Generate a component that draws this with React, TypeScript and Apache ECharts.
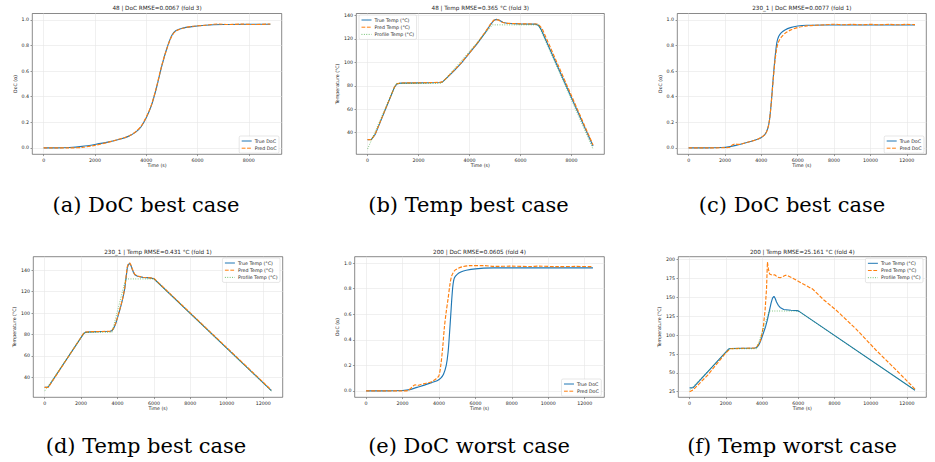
import React, { useEffect, useRef } from "react";
import * as echarts from "echarts";

// ---------- data ----------
// (a) run 48 – DoC
const aTrueDoc = [[0,0],[500,0],[1000,0.003],[1500,0.012],[2000,0.027],[2500,0.045],[3000,0.07],[3300,0.09],[3600,0.125],[3800,0.165],[4000,0.235],[4200,0.33],[4400,0.47],[4600,0.635],[4800,0.775],[5000,0.88],[5150,0.915],[5400,0.935],[5800,0.948],[6300,0.958],[7000,0.964],[8000,0.966],[8840,0.966]];
const aPredDoc = [[0,0],[1000,0],[1500,0.004],[2000,0.02],[2500,0.043],[2800,0.06],[3000,0.072],[3200,0.083],[3400,0.1],[3600,0.128],[3800,0.17],[4000,0.24],[4200,0.335],[4400,0.475],[4600,0.64],[4800,0.772],[5000,0.875],[5150,0.912],[5400,0.933],[5800,0.95],[6300,0.958],[6800,0.968],[7200,0.964],[7700,0.967],[8200,0.964],[8840,0.968]];
// (b) run 48 – temperature
const bTrueTemp = [[0,34],[150,34.3],[300,38.5],[1050,78.5],[1150,81.5],[1300,82.3],[2000,82.5],[2850,82.8],[2950,83.5],[3100,86.5],[3400,93],[3700,100],[4000,108],[4300,116],[4600,125],[4800,131.5],[4950,135.8],[5050,136.7],[5150,136.2],[5300,134.2],[5500,133.2],[6000,132.8],[6600,132.6],[6700,131.5],[6800,128.3],[8840,28.5]];
const bPredTemp = [[0,34],[150,34],[300,38.8],[1050,78.8],[1150,81.7],[1300,82.4],[2000,82.5],[2850,82.9],[2950,83.6],[3100,86.8],[3400,93.3],[3700,100.3],[4000,108.3],[4300,116.5],[4600,125.5],[4800,132],[4950,136],[5050,136.5],[5150,136],[5300,134],[5500,133.3],[6000,132.9],[6650,132.7],[6750,131.2],[6850,128.5],[8840,29.5]];
const bProfileTemp = [[0,26],[1120,82],[2900,82],[4900,132],[6700,132],[8840,26]];
// (c) run 230_1 – DoC
const cTrueDoc = [[0,0],[1000,0],[1800,0.003],[2200,0.008],[2600,0.02],[3000,0.034],[3400,0.05],[3800,0.068],[4000,0.082],[4200,0.105],[4350,0.15],[4450,0.22],[4550,0.36],[4650,0.54],[4750,0.7],[4850,0.82],[4950,0.87],[5100,0.9],[5300,0.922],[5600,0.94],[6000,0.952],[6500,0.958],[7500,0.96],[12450,0.96]];
const cPredDoc = [[0,0],[1000,0],[2000,0.002],[2300,0.006],[2400,0.022],[2550,0.03],[2750,0.027],[3000,0.034],[3400,0.05],[3800,0.068],[4000,0.083],[4200,0.104],[4350,0.15],[4450,0.22],[4550,0.36],[4650,0.53],[4750,0.68],[4850,0.78],[4950,0.83],[5100,0.865],[5300,0.895],[5600,0.92],[6000,0.94],[6500,0.953],[7000,0.958],[7500,0.962],[8000,0.966],[8500,0.962],[9000,0.965],[9500,0.962],[10000,0.965],[10500,0.962],[11000,0.965],[11500,0.962],[12000,0.965],[12450,0.963]];
// (d) run 230_1 – temperature
const dTrueTemp = [[0,30.5],[200,30.8],[2150,81],[2250,82],[2500,82.5],[3600,83],[3700,83.6],[3800,86],[3900,90],[4000,95.5],[4100,101.5],[4200,107.5],[4300,114.5],[4400,123],[4470,133],[4540,142.5],[4600,145.5],[4670,146.5],[4740,144.5],[4800,141.5],[4880,138],[4950,136],[5100,134.5],[5400,133.5],[5800,133],[6000,132.2],[12450,27.5]];
const dPredTemp = [[0,30.5],[200,30.5],[2150,81.3],[2250,82.2],[2500,82.6],[3600,83],[3700,83.8],[3800,86.5],[3900,90.5],[4000,96],[4100,102],[4200,108],[4300,115],[4400,123.5],[4470,134],[4540,143.5],[4600,146.3],[4670,147],[4740,145],[4800,142],[4880,138.5],[4950,136.3],[5100,134.7],[5400,133.6],[5800,133],[6000,132.5],[12450,28]];
const dProfileTemp = [[0,27],[2200,82],[3700,82],[4450,132],[6000,132],[12450,27]];
// (e) run 200 – DoC
const eTrueDoc = [[0,0],[1000,0],[2000,0.003],[2400,0.01],[2800,0.028],[3200,0.045],[3600,0.065],[3900,0.08],[4100,0.1],[4250,0.13],[4400,0.2],[4500,0.3],[4580,0.45],[4650,0.6],[4720,0.75],[4780,0.84],[4850,0.885],[5000,0.912],[5200,0.93],[5500,0.944],[6000,0.955],[7000,0.962],[8000,0.963],[12450,0.963]];
const ePredDoc = [[0,0],[1000,0],[2000,0],[2300,0.003],[2450,0.02],[2600,0.04],[2700,0.048],[2800,0.042],[3000,0.05],[3300,0.06],[3600,0.072],[3850,0.095],[4000,0.12],[4100,0.2],[4200,0.33],[4300,0.5],[4400,0.62],[4500,0.72],[4600,0.83],[4700,0.9],[4850,0.94],[5000,0.955],[5300,0.972],[5700,0.98],[6500,0.98],[7000,0.974],[8000,0.976],[9000,0.973],[9500,0.976],[10500,0.972],[11500,0.974],[12450,0.972]];
// (f) run 200 – temperature
const fTrueTemp = [[0,30],[200,30.5],[2150,81.5],[2250,82.3],[3600,83],[3700,83.6],[3800,86],[3900,91],[4000,97.5],[4100,104.5],[4200,111.5],[4300,120.5],[4400,131.5],[4500,142.5],[4580,149],[4660,151.5],[4730,148.5],[4800,144],[4900,139.5],[5000,136.7],[5200,134],[5600,133],[5950,132.5],[6050,131.5],[12450,27]];
const fPredTemp = [[0,25],[200,27.5],[1000,47],[2000,76.5],[2250,82],[3600,83],[3700,84],[3800,88],[3900,92],[4000,102],[4080,113],[4170,133],[4250,162],[4300,197],[4350,188],[4420,181],[4550,179.5],[4700,180],[4850,177],[5000,176],[5150,177.5],[5300,179.5],[5450,178.5],[5700,175.5],[6000,171.5],[6300,167.5],[6600,163.5],[6800,161],[7100,154],[7400,147],[8100,133],[9200,108],[10300,80],[11400,54],[12450,28.5]];
const fProfileTemp = [[0,27],[2200,82],[3700,82],[4400,132],[6000,132],[12450,27]];

// tick labels
const xTicksShort = [0, 2000, 4000, 6000, 8000];
const xTicksLong = [0, 2000, 4000, 6000, 8000, 10000, 12000];
const docTicks = [0, 0.2, 0.4, 0.6, 0.8, 1.0];
const tempTicks = [40, 60, 80, 100, 120, 140];
const tempTicksWide = [25, 50, 75, 100, 125, 150, 175, 200];

// texts
const panelTitles = [
  "48 | DoC RMSE=0.0067 (fold 3)",
  "48 | Temp RMSE=0.365 °C (fold 3)",
  "230_1 | DoC RMSE=0.0077 (fold 1)",
  "230_1 | Temp RMSE=0.431 °C (fold 1)",
  "200 | DoC RMSE=0.0605 (fold 4)",
  "200 | Temp RMSE=25.161 °C (fold 4)",
];
const captions = [
  "(a) DoC best case",
  "(b) Temp best case",
  "(c) DoC best case",
  "(d) Temp best case",
  "(e) DoC worst case",
  "(f) Temp worst case",
];
const docNames = ["True DoC", "Pred DoC"];
const tempNames = ["True Temp (°C)", "Pred Temp (°C)", "Profile Temp (°C)"];

// ---------- styling / layout ----------
const SANS = "DejaVu Sans";
const SERIF = "DejaVu Serif";
const TXT = "#262626";
const BLUE = "#1f77b4";
const ORANGE = "#ff7f0e";
const GREEN = "#2ca02c";
const TICK_FS = 4.73;
const TITLE_FS = 5.68;

type Panel = {
  grid: { left: number; top: number; width: number; height: number };
  xr: number[]; yr: number[]; xt: number[]; yt: number[];
  doc: boolean; yGap: number;
  legend: any;
  data: number[][][];
};

const panels: Panel[] = [
  { grid: { left: 32.3, top: 13.5, width: 249.4, height: 140.8 }, xr: [-442, 9282], yr: [-0.05, 1.05], xt: xTicksShort, yt: docTicks, doc: true, yGap: 13.9, legend: { right: 656, top: 136 }, data: [aTrueDoc, aPredDoc] },
  { grid: { left: 356.3, top: 13.5, width: 248, height: 140.8 }, xr: [-442, 9282], yr: [21.5, 141.7], xt: xTicksShort, yt: tempTicks, doc: false, yGap: 14.3, legend: { left: 359, top: 15 }, data: [bTrueTemp, bPredTemp, bProfileTemp] },
  { grid: { left: 677.3, top: 13.5, width: 249, height: 140.8 }, xr: [-623, 13073], yr: [-0.05, 1.05], xt: xTicksLong, yt: docTicks, doc: true, yGap: 13.9, legend: { right: 11, top: 136 }, data: [cTrueDoc, cPredDoc] },
  { grid: { left: 33.3, top: 256.7, width: 249.4, height: 140.6 }, xr: [-623, 13073], yr: [21.2, 152.8], xt: xTicksLong, yt: tempTicks, doc: false, yGap: 14.9, legend: { right: 655, top: 258 }, data: [dTrueTemp, dPredTemp, dProfileTemp] },
  { grid: { left: 354.7, top: 256.7, width: 249.6, height: 140.6 }, xr: [-623, 13073], yr: [-0.05, 1.05], xt: xTicksLong, yt: docTicks, doc: true, yGap: 12.7, legend: { right: 333.7, top: 379 }, data: [eTrueDoc, ePredDoc] },
  { grid: { left: 678.3, top: 256.7, width: 248, height: 140.6 }, xr: [-623, 13073], yr: [17.6, 204], xt: xTicksLong, yt: tempTicksWide, doc: false, yGap: 14.3, legend: { right: 12, top: 258.3 }, data: [fTrueTemp, fPredTemp, fProfileTemp] },
];

const captionPos = [
  [146, 205], [468.5, 205], [792, 205],
  [146, 446], [469, 446], [792, 446],
];

function buildOption() {
  const grid: any[] = [];
  const xAxis: any[] = [];
  const yAxis: any[] = [];
  const series: any[] = [];
  const legend: any[] = [];
  const graphic: any[] = [];

  panels.forEach((p, i) => {
    grid.push({
      ...p.grid,
      show: true,
      borderColor: "#3a3a3a",
      borderWidth: 0.6,
      backgroundColor: "transparent",
      containLabel: false,
    });
    xAxis.push({
      type: "value",
      gridIndex: i,
      min: p.xr[0],
      max: p.xr[1],
      name: "Time (s)",
      nameLocation: "middle",
      nameGap: 9,
      nameTextStyle: { fontSize: TICK_FS, fontFamily: SANS, color: TXT },
      axisLine: { show: false, onZero: false },
      axisTick: { show: true, length: 1.8, customValues: p.xt, lineStyle: { color: "#3a3a3a", width: 0.5 } },
      axisLabel: { customValues: p.xt, fontSize: TICK_FS, fontFamily: SANS, color: TXT, margin: 3.2, formatter: (v: number) => String(v) },
      splitLine: { show: true, lineStyle: { color: "#e6e6e6", width: 0.6 } },
    });
    yAxis.push({
      type: "value",
      gridIndex: i,
      min: p.yr[0],
      max: p.yr[1],
      name: p.doc ? "DoC (α)" : "Temperature (°C)",
      nameLocation: "middle",
      nameGap: p.yGap,
      nameTextStyle: { fontSize: TICK_FS, fontFamily: SANS, color: TXT },
      axisLine: { show: false, onZero: false },
      axisTick: { show: true, length: 1.8, customValues: p.yt, lineStyle: { color: "#3a3a3a", width: 0.5 } },
      axisLabel: {
        customValues: p.yt, fontSize: TICK_FS, fontFamily: SANS, color: TXT, margin: 3.2,
        formatter: (v: number) => (p.doc ? v.toFixed(1) : String(v)),
      },
      splitLine: { show: true, lineStyle: { color: "#e6e6e6", width: 0.6 } },
    });

    const names = p.doc ? docNames : tempNames;
    p.data.forEach((d, k) => {
      const color = k === 0 ? BLUE : k === 1 ? ORANGE : GREEN;
      const type = k === 0 ? "solid" : k === 1 ? [3.8, 1.6] : [0.9, 1.5];
      series.push({
        type: "line",
        name: names[k],
        xAxisIndex: i,
        yAxisIndex: i,
        data: d,
        symbol: "none",
        showSymbol: false,
        smooth: p.doc ? 0.3 : false,
        color,
        lineStyle: { color, width: k === 2 ? 0.85 : 1.15, type, opacity: k === 2 ? 0.75 : 1 },
        silent: true,
        emphasis: { disabled: true },
        z: 2 + k,
      });
    });

    legend.push({
      ...p.legend,
      orient: "vertical",
      data: names,
      selectedMode: false,
      itemWidth: 10,
      itemHeight: 5,
      itemGap: 1.2,
      padding: [2, 2.5, 2, 2],
      backgroundColor: "rgba(255,255,255,0.85)",
      borderColor: "#cccccc",
      borderWidth: 0.5,
      borderRadius: 1.5,
      itemStyle: { opacity: 0, borderWidth: 0 },
      lineStyle: { width: 1 },
      textStyle: { fontSize: TICK_FS, fontFamily: SANS, color: TXT, lineHeight: 6, padding: [0, 0, 0, -2] },
    });

    graphic.push({
      type: "text",
      x: p.grid.left + p.grid.width / 2,
      y: p.grid.top - 5.2,
      silent: true,
      style: { text: panelTitles[i], fontSize: TITLE_FS, fontFamily: SANS, fill: TXT, align: "center", verticalAlign: "middle" },
    });
    graphic.push({
      type: "text",
      x: captionPos[i][0],
      y: captionPos[i][1],
      silent: true,
      style: { text: captions[i], fontSize: 21, fontFamily: SERIF, fill: "#000", align: "center", verticalAlign: "middle" },
    });
  });

  return {
    animation: false,
    backgroundColor: "#ffffff",
    grid, xAxis, yAxis, series, legend, graphic,
  };
}

export default function App() {
  const ref = useRef<HTMLDivElement>(null);
  useEffect(() => {
    if (!ref.current) return;
    const chart = echarts.init(ref.current, undefined, { renderer: "svg" });
    chart.setOption(buildOption() as any);
    return () => chart.dispose();
  }, []);
  return (
    <div
      ref={ref}
      style={{ position: "absolute", left: 0, top: 0, width: 935, height: 462, background: "#fff" }}
    />
  );
}
